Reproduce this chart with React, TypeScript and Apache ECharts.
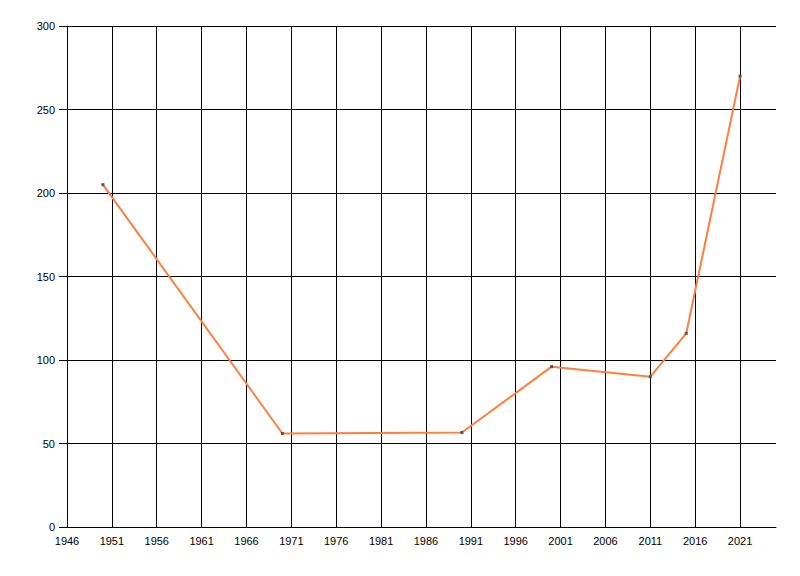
import React, { useEffect, useRef } from "react";
import * as echarts from "echarts";

const years = [1950, 1970, 1990, 2000, 2011, 2015, 2021];
const values = [205, 56, 56.6, 96, 90, 116, 270];

export default function App() {
  const ref = useRef<HTMLDivElement>(null);
  useEffect(() => {
    const chart = echarts.init(ref.current!, null, { renderer: "svg" });
    const font = "Liberation Sans, Arial, sans-serif";
    chart.setOption({
      animation: false,
      backgroundColor: "#fff",
      grid: { left: 67, right: 24, top: 26, bottom: 49, containLabel: false },
      xAxis: {
        type: "value",
        min: 1946,
        max: 2025,
        interval: 5,
        axisLine: { show: true, onZero: false, lineStyle: { color: "#000", width: 1 } },
        axisTick: { show: false },
        axisLabel: {
          color: "#000",
          fontFamily: font,
          fontSize: 11,
          margin: 8,
          showMaxLabel: false,
          formatter: (v: number) => (v === 2025 ? "" : String(v)),
        },
        splitLine: { show: true, showMinLine: false, showMaxLine: false, lineStyle: { color: "#000", width: 1 } },
      },
      yAxis: {
        type: "value",
        min: 0,
        max: 300,
        interval: 50,
        axisLine: { show: true, lineStyle: { color: "#000", width: 1 } },
        axisTick: { show: true, inside: false, length: 8, lineStyle: { color: "#000" } },
        axisLabel: { color: "#000", fontFamily: font, fontSize: 11, margin: 12 },
        splitLine: { show: true, lineStyle: { color: "#000", width: 1 } },
      },
      series: [
        {
          type: "line",
          data: years.map((y, i) => [y, values[i]]),
          symbol: "rect",
          symbolSize: 3,
          showSymbol: true,
          itemStyle: { color: "#555" },
          lineStyle: { color: "#ff7f3f", width: 2 },
          z: 5,
        },
      ],
    });
    return () => chart.dispose();
  }, []);
  return <div ref={ref} style={{ width: 800, height: 576, position: "absolute", left: 0, top: 0 }} />;
}
